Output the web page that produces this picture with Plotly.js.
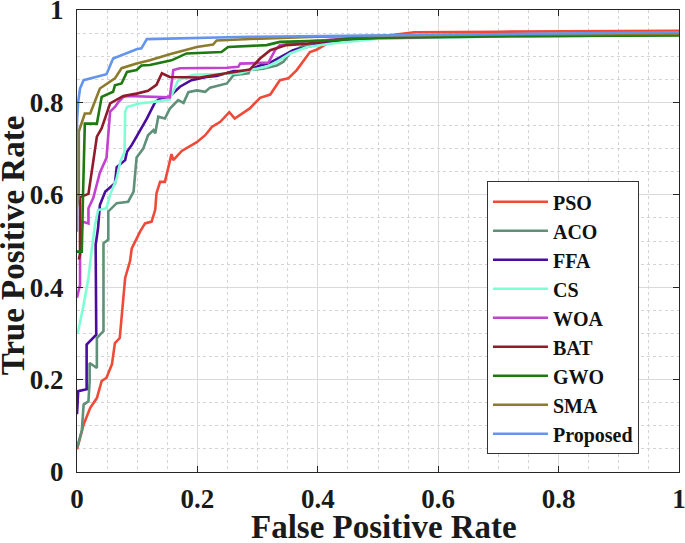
<!DOCTYPE html>
<html>
<head>
<meta charset="utf-8">
<script src="https://cdn.plot.ly/plotly-3.0.1.min.js"></script>
<style>html,body{margin:0;padding:0;background:#fff;}#chart{width:685px;height:543px;}</style>
</head>
<body>
<div id="chart"></div>
<script>
// ---- data ----
const seriesNames = ["PSO", "ACO", "FFA", "CS", "WOA", "BAT", "GWO", "SMA", "Proposed"];
const xTitle = "False Positive Rate";
const yTitle = "True Positive Rate";

const psoFpr = [0, 0.011, 0.022, 0.033, 0.041, 0.049, 0.058, 0.063, 0.071, 0.077, 0.080, 0.088, 0.091, 0.105, 0.113, 0.124, 0.130, 0.132, 0.138, 0.146, 0.152, 0.157, 0.160, 0.174, 0.199, 0.213, 0.224, 0.238, 0.253, 0.262, 0.287, 0.304, 0.321, 0.337, 0.351, 0.365, 0.387, 0.398, 0.415, 0.45, 0.52, 0.56, 0.7, 0.85, 1];
const psoTpr = [0.049, 0.103, 0.139, 0.160, 0.197, 0.204, 0.233, 0.279, 0.290, 0.369, 0.420, 0.456, 0.484, 0.521, 0.538, 0.542, 0.568, 0.603, 0.628, 0.628, 0.662, 0.688, 0.675, 0.695, 0.714, 0.729, 0.747, 0.758, 0.779, 0.765, 0.787, 0.810, 0.817, 0.848, 0.852, 0.870, 0.909, 0.914, 0.927, 0.937, 0.945, 0.952, 0.953, 0.954, 0.955];

const acoFpr = [0, 0.008, 0.011, 0.019, 0.021, 0.021, 0.033, 0.033, 0.044, 0.044, 0.052, 0.052, 0.066, 0.085, 0.094, 0.099, 0.110, 0.118, 0.127, 0.130, 0.135, 0.146, 0.154, 0.168, 0.177, 0.185, 0.199, 0.213, 0.221, 0.249, 0.260, 0.285, 0.287, 0.309, 0.332, 0.343, 0.351, 0.354, 0.38, 0.42, 0.5, 0.7, 1];
const acoTpr = [0.052, 0.089, 0.146, 0.153, 0.197, 0.236, 0.225, 0.290, 0.305, 0.495, 0.503, 0.564, 0.582, 0.585, 0.607, 0.681, 0.700, 0.729, 0.740, 0.733, 0.769, 0.765, 0.786, 0.805, 0.799, 0.822, 0.826, 0.823, 0.832, 0.841, 0.859, 0.863, 0.870, 0.873, 0.880, 0.888, 0.902, 0.909, 0.925, 0.935, 0.940, 0.943, 0.946];

const ffaFpr = [0, 0.002, 0.016, 0.016, 0.032, 0.031, 0.035, 0.038, 0.047, 0.063, 0.066, 0.080, 0.083, 0.091, 0.102, 0.116, 0.130, 0.138, 0.154, 0.171, 0.190, 0.215, 0.232, 0.260, 0.282, 0.304, 0.321, 0.337, 0.359, 0.382, 0.42, 0.5, 0.7, 1];
const ffaTpr = [0.125, 0.175, 0.179, 0.276, 0.297, 0.492, 0.528, 0.578, 0.607, 0.625, 0.660, 0.675, 0.693, 0.708, 0.733, 0.765, 0.801, 0.808, 0.813, 0.834, 0.848, 0.855, 0.857, 0.868, 0.868, 0.880, 0.886, 0.898, 0.913, 0.920, 0.932, 0.940, 0.944, 0.948];

const csFpr = [0, 0.002, 0.011, 0.019, 0.024, 0.030, 0.035, 0.049, 0.055, 0.066, 0.072, 0.079, 0.080, 0.083, 0.105, 0.121, 0.154, 0.168, 0.193, 0.271, 0.287, 0.315, 0.332, 0.354, 0.382, 0.420, 0.5, 0.7, 1];
const csTpr = [0.300, 0.305, 0.362, 0.420, 0.477, 0.535, 0.567, 0.571, 0.600, 0.636, 0.672, 0.693, 0.780, 0.790, 0.798, 0.800, 0.806, 0.848, 0.860, 0.863, 0.870, 0.877, 0.888, 0.906, 0.920, 0.927, 0.938, 0.943, 0.947];

const woaFpr = [0, 0.005, 0.005, 0.009, 0.019, 0.019, 0.027, 0.033, 0.038, 0.049, 0.052, 0.055, 0.063, 0.069, 0.077, 0.085, 0.154, 0.160, 0.171, 0.249, 0.268, 0.271, 0.318, 0.329, 0.337, 0.38, 0.45, 0.55, 0.7, 1];
const woaTpr = [0.377, 0.405, 0.470, 0.542, 0.538, 0.571, 0.593, 0.620, 0.648, 0.680, 0.726, 0.780, 0.790, 0.801, 0.812, 0.814, 0.811, 0.870, 0.874, 0.875, 0.877, 0.884, 0.886, 0.913, 0.924, 0.932, 0.938, 0.940, 0.945, 0.950];

const batFpr = [0.003, 0.005, 0.005, 0.019, 0.027, 0.033, 0.041, 0.055, 0.077, 0.099, 0.118, 0.132, 0.141, 0.154, 0.204, 0.259, 0.287, 0.304, 0.321, 0.348, 0.382, 0.409, 0.45, 0.55, 0.7, 1];
const batTpr = [0.460, 0.470, 0.595, 0.602, 0.672, 0.726, 0.744, 0.798, 0.814, 0.819, 0.825, 0.838, 0.863, 0.855, 0.854, 0.865, 0.871, 0.895, 0.913, 0.924, 0.927, 0.932, 0.938, 0.942, 0.945, 0.948];

const gwoFpr = [0, 0.008, 0.010, 0.013, 0.033, 0.041, 0.060, 0.063, 0.074, 0.083, 0.099, 0.107, 0.121, 0.157, 0.182, 0.240, 0.251, 0.315, 0.337, 0.415, 0.5, 0.7, 1];
const gwoTpr = [0.477, 0.477, 0.600, 0.754, 0.754, 0.812, 0.823, 0.837, 0.841, 0.866, 0.870, 0.880, 0.881, 0.891, 0.906, 0.909, 0.920, 0.924, 0.931, 0.934, 0.940, 0.943, 0.945];

const smaFpr = [0, 0.003, 0.003, 0.013, 0.022, 0.033, 0.038, 0.063, 0.074, 0.099, 0.121, 0.154, 0.199, 0.226, 0.232, 0.304, 0.4, 0.55, 0.7, 1];
const smaTpr = [0.575, 0.600, 0.737, 0.776, 0.776, 0.816, 0.830, 0.852, 0.874, 0.884, 0.891, 0.904, 0.920, 0.925, 0.934, 0.938, 0.942, 0.945, 0.947, 0.948];

const propFpr = [0, 0, 0.002, 0.005, 0.011, 0.049, 0.060, 0.099, 0.107, 0.116, 0.287, 0.603, 1];
const propTpr = [0.52, 0.758, 0.801, 0.830, 0.848, 0.861, 0.895, 0.915, 0.917, 0.937, 0.942, 0.947, 0.952];

const seriesColors = ["#EF4A38", "#5F9079", "#4A0C9C", "#7FFFD4", "#C440D0", "#8E1C2A", "#1E7A10", "#8C7B2D", "#6495ED"];

const xTickVals = [0, 0.2, 0.4, 0.6, 0.8, 1];
const xTickText = ["0", "0.2", "0.4", "0.6", "0.8", "1"];
const yTickVals = [0, 0.2, 0.4, 0.6, 0.8, 1];
const yTickText = ["0", "0.2", "0.4", "0.6", "0.8", "1"];

// ---- build ----
const xs = [psoFpr, acoFpr, ffaFpr, csFpr, woaFpr, batFpr, gwoFpr, smaFpr, propFpr];
const ys = [psoTpr, acoTpr, ffaTpr, csTpr, woaTpr, batTpr, gwoTpr, smaTpr, propTpr];

const FONT = "Liberation Serif, Times New Roman, serif";
const traces = seriesNames.map((n, i) => ({
  type: "scatter", mode: "lines", name: n,
  x: xs[i], y: ys[i],
  line: {color: seriesColors[i], width: 2.6}
}));

const axisCommon = {
  range: [0, 1], showline: true, mirror: "ticks", linecolor: "#262626", linewidth: 1,
  ticks: "inside", ticklen: 6, tickwidth: 1, tickcolor: "#262626",
  showgrid: true, gridcolor: "#dadada", gridwidth: 1, zeroline: false,
  ticklabeloverflow: "allow",
  tickfont: {family: FONT, size: 27, color: "#1a1a1a", weight: "bold"},
  minor: {dtick: 0.05, showgrid: true, gridcolor: "#d4d4d4", griddash: "dot", gridwidth: 1, ticks: ""}
};

const titleFont = {family: FONT, size: 33, color: "#1a1a1a", weight: "bold"};

const layout = {
  width: 685, height: 543,
  margin: {l: 77, r: 6, t: 10, b: 71},
  paper_bgcolor: "#fff", plot_bgcolor: "#fff",
  showlegend: true,
  xaxis: Object.assign({}, axisCommon, {
    tickvals: xTickVals, ticktext: xTickText, ticklabelstandoff: 3
  }),
  yaxis: Object.assign({}, axisCommon, {
    tickvals: yTickVals, ticktext: yTickText, ticklabelstandoff: 7
  }),
  annotations: [
    {text: xTitle, xref: "paper", yref: "paper", x: 0.51, y: -0.119, xanchor: "center", yanchor: "middle",
     showarrow: false, font: titleFont},
    {text: yTitle, xref: "paper", yref: "paper", x: -0.106, y: 0.491, xanchor: "center", yanchor: "middle",
     textangle: -90, showarrow: false, font: titleFont}
  ],
  legend: {
    x: 0.681, y: 0.334, xanchor: "left", yanchor: "middle",
    bgcolor: "#fff", bordercolor: "#333", borderwidth: 1,
    font: {family: FONT, size: 20, color: "#111", weight: "bold"},
    itemwidth: 55, tracegroupgap: 0
  }
};

Plotly.newPlot("chart", traces, layout, {displayModeBar: false, staticPlot: true});
</script>
</body>
</html>
